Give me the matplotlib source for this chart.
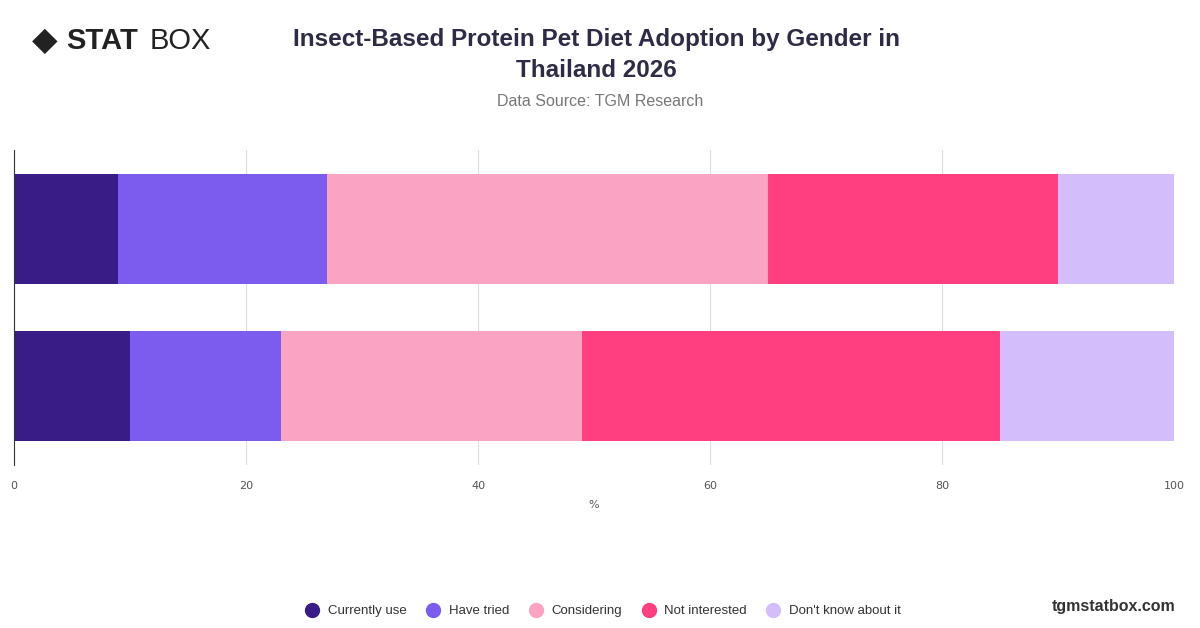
import matplotlib
matplotlib.use("Agg")
import matplotlib.pyplot as plt
from matplotlib.lines import Line2D

groups = ["Male", "Female"]
series = ["Currently use", "Have tried", "Considering", "Not interested", "Don't know about it"]
values = {
    "Currently use": [9, 10],
    "Have tried": [18, 13],
    "Considering": [38, 26],
    "Not interested": [25, 36],
    "Don't know about it": [10, 15],
}
colors = ["#3A1C87", "#7B5CEE", "#FBA3C3", "#FF3F80", "#D4BDFB"]
xticks = [0, 20, 40, 60, 80, 100]

fig = plt.figure(figsize=(12, 6.28), dpi=100)
ax = fig.add_axes([0.0117, 0.26, 0.9666, 0.501])
ypos = [1, 0]
left = [0, 0]
for s, c in zip(series, colors):
    ax.barh(ypos, values[s], left=left, color=c, height=0.7, zorder=2)
    left = [l + v for l, v in zip(left, values[s])]
ax.set_xlim(0, 100)
ax.set_ylim(-0.5, 1.5)
ax.set_xticks(xticks)
ax.set_xticklabels([str(t) for t in xticks], fontsize=8, color="#555")
ax.set_yticks([])
ax.grid(axis="x", color="#dddddd", lw=0.8, zorder=0)
for sp in ["top", "right"]:
    ax.spines[sp].set_visible(False)
ax.spines["bottom"].set_visible(False)
ax.spines["left"].set_color("#333")
ax.tick_params(axis="x", length=0, pad=12)
ax.set_xlabel("%", fontsize=8, color="#555", labelpad=6)

fig.text(0.497, 0.913, "Insect-Based Protein Pet Diet Adoption by Gender in\nThailand 2026",
         ha="center", va="center", fontsize=17.5, fontweight="bold", color="#2d2b45", linespacing=1.45,
         family="Liberation Sans")
fig.text(0.5, 0.838, "Data Source: TGM Research", ha="center", va="center", fontsize=11.5, color="#777",
         family="Liberation Sans")

fig.text(0.037, 0.935, "◆", ha="center", va="center", fontsize=24, color="#222")
fig.text(0.055, 0.935, "STAT", ha="left", va="center", fontsize=21, fontweight="bold", color="#222",
         family="Liberation Sans")
fig.text(0.1245, 0.935, "BOX", ha="left", va="center", fontsize=21, color="#222", family="Liberation Sans")
fig.text(0.98, 0.035, "tgmstatbox.com", ha="right", va="center", fontsize=11.5, fontweight="bold", color="#333",
         family="Liberation Sans")

handles = [Line2D([], [], marker="o", ls="", markersize=10, color=c) for c in colors]
fig.legend(handles, series, loc="center", bbox_to_anchor=(0.5, 0.027), ncol=5, frameon=False,
           handletextpad=0.2, columnspacing=1.0, labelcolor="#333",
           prop={"family": "Liberation Sans", "size": 9.5})
fig.savefig("out.png", dpi=100)
